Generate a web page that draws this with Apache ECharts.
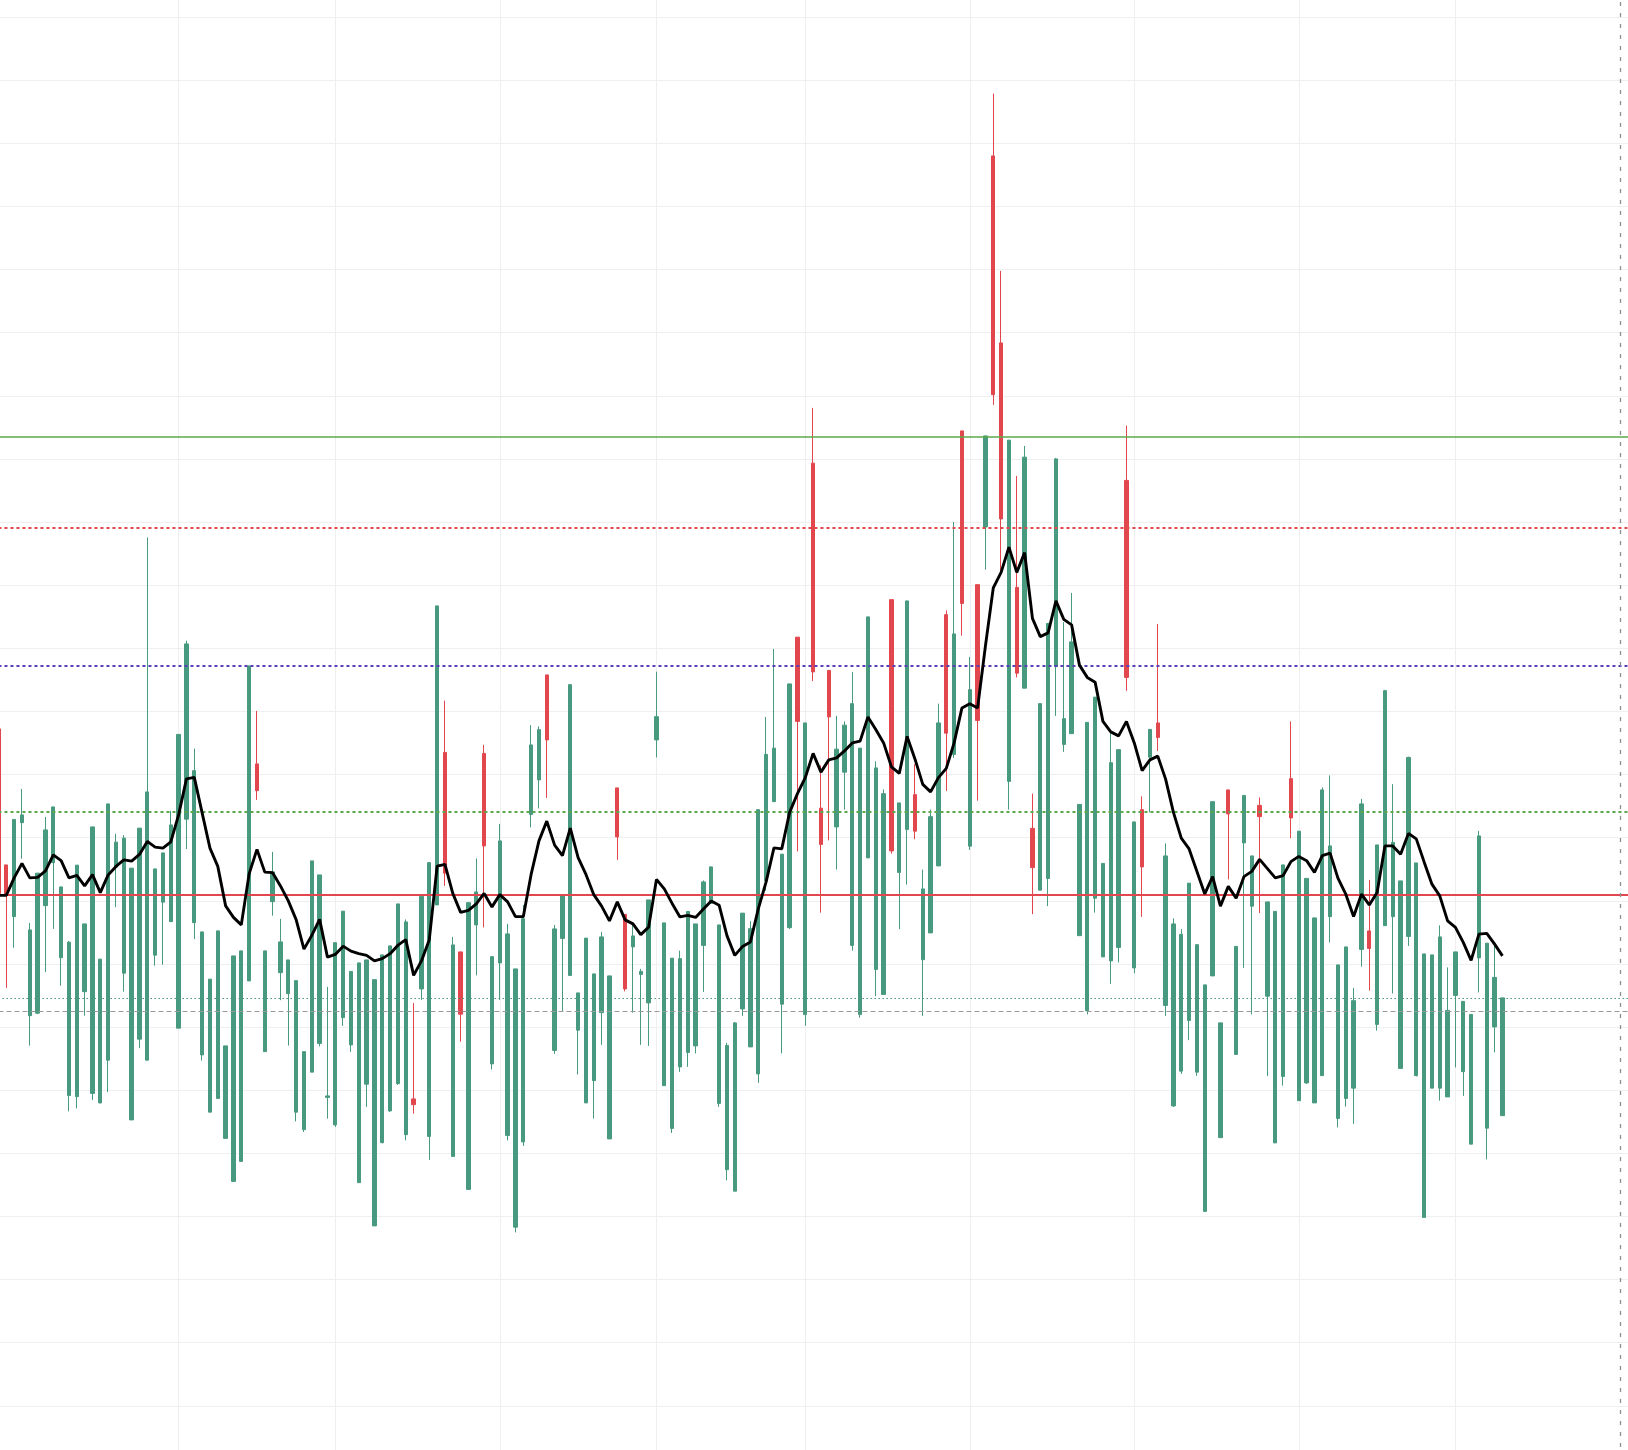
<!DOCTYPE html>
<html>
<head>
<meta charset="utf-8">
<script src="https://cdn.jsdelivr.net/npm/echarts@6/dist/echarts.min.js"></script>
<style>
html,body{margin:0;padding:0;background:#fff;}
#chart{width:1628px;height:1450px;}
</style>
</head>
<body>
<div id="chart"></div>
<script>
// Trading calendar (US market) used for the category axis
const firstDay = '2024-10-01';
const categoryCount = 210;
const holidays = ['2024-11-28','2024-12-25','2025-01-01','2025-01-09','2025-01-20','2025-02-17','2025-04-18','2025-05-26','2025-06-19','2025-07-04'];
const monthStarts = ['2024-11-01','2024-12-02','2025-01-02','2025-02-03','2025-03-03','2025-04-01','2025-05-01','2025-06-02','2025-07-01'];
const markerDate = '2025-07-31';

// OHLC values, one per trading day starting 2024-10-01
const opens = [23.02,22.98,25.98,26.16,21.56,23.83,25.56,26.48,23.28,21.07,24.15,21.80,25.68,20.39,26.60,25.07,25.23,24.03,25.63,27.08,24.00,24.64,25.76,29.38,33.00,27.93,21.48,19.59,21.52,16.92,20.52,20.72,32.12,27.13,20.72,23.88,21.08,20.36,19.53,16.69,24.32,23.76,14.92,21.05,22.31,19.90,20.24,20.36,19.57,20.56,20.92,22.60,21.88,14.57,22.90,24.25,34.52,23.83,20.96,18.19,22.65,23.08,24.92,20.49,25.12,21.40,20.00,22.01,28.96,29.57,29.16,21.60,22.93,31.37,19.04,21.23,19.80,21.28,19.72,25.28,19.20,21.32,19.90,22.76,30.09,21.84,20.43,20.41,22.30,21.80,23.48,24.08,21.76,16.94,17.84,22.23,21.61,26.37,28.58,28.83,24.59,31.40,29.90,29.84,31.88,24.98,30.08,28.79,29.75,30.61,28.83,34.08,28.04,27.01,24.72,26.64,34.72,25.51,23.20,26.09,29.84,29.43,33.40,34.62,31.17,29.94,41.32,42.97,38.00,41.15,31.83,40.47,24.05,30.61,33.82,40.40,30.01,33.08,26.58,29.86,30.87,24.22,28.25,28.77,31.66,25.88,24.08,29.58,29.26,24.52,21.80,21.38,23.43,20.97,19.36,26.69,17.84,26.20,20.90,26.94,24.52,26.09,22.68,22.30,24.16,26.04,25.51,23.62,22.04,27.16,24.92,20.16,20.88,18.73,26.60,20.82,24.96,31.13,25.06,23.52,28.46,24.24,20.60,20.56,21.28,18.34,20.68,18.70,18.18,25.32,21.03,19.66,18.84];
const closes = [29.60,24.16,22.09,25.85,18.13,18.23,22.53,24.25,20.45,14.94,14.89,19.09,15.02,14.64,16.35,24.07,19.83,13.96,17.19,16.35,20.55,22.67,21.89,17.63,25.99,21.85,16.56,14.27,14.82,13.22,11.50,12.30,19.52,28.20,16.69,22.69,19.85,19.01,14.27,13.57,15.87,17.02,14.86,13.76,18.05,16.96,11.45,15.39,9.72,13.05,14.32,15.41,13.37,14.80,19.20,13.30,22.56,28.66,12.50,20.68,11.18,21.76,28.62,16.20,20.24,13.34,9.67,13.08,26.18,27.56,31.76,16.74,21.22,19.74,17.55,14.64,15.53,18.25,13.20,27.24,22.18,20.88,19.78,18.64,29.16,15.33,13.62,16.08,16.66,16.92,20.94,22.62,14.62,11.97,11.11,18.40,16.88,15.80,23.52,26.69,18.59,21.65,33.27,18.18,40.23,26.43,31.94,25.68,27.87,20.94,18.18,24.44,19.98,18.98,34.77,23.86,25.58,26.97,20.37,21.44,24.12,34.17,28.58,41.52,24.91,35.37,37.68,52.52,45.04,27.50,35.26,31.23,25.62,23.15,23.62,32.09,28.98,29.41,21.33,18.33,22.83,20.48,20.32,20.86,39.54,20.04,26.37,28.47,29.84,18.54,14.52,15.91,17.94,15.87,10.30,19.72,13.25,27.16,16.58,25.04,22.51,26.54,18.91,13.04,15.70,27.61,14.73,15.44,14.64,15.73,22.09,14.02,14.82,15.23,20.78,21.52,17.78,21.73,22.09,16.02,21.30,15.73,10.06,15.23,15.23,14.88,18.94,15.89,12.99,20.44,13.63,17.68,14.13];
const lows = [23.02,19.24,20.85,24.41,16.93,18.19,19.87,21.60,19.33,14.30,14.42,18.13,14.76,14.62,15.07,22.47,19.09,13.96,16.83,16.35,20.13,20.17,21.89,17.63,24.79,21.19,16.33,14.27,14.82,13.22,11.50,12.30,19.52,26.76,16.69,22.13,18.75,16.93,13.90,13.48,15.87,16.90,14.01,13.68,17.72,16.68,11.45,14.48,9.72,13.02,14.28,15.36,13.14,14.21,18.76,12.36,22.56,23.32,12.50,17.09,11.18,19.74,21.66,15.98,18.76,13.14,9.46,12.92,25.66,26.42,26.84,16.60,18.30,19.74,15.78,14.64,14.01,16.96,13.20,24.36,19.10,18.25,16.96,16.92,28.46,15.33,13.44,15.88,16.08,16.62,19.08,22.62,14.48,11.54,11.11,18.12,16.88,15.44,23.13,26.69,16.62,21.60,24.70,17.73,31.51,22.25,25.14,23.97,26.37,20.73,18.05,24.44,18.91,18.98,24.61,21.59,23.37,25.19,18.12,21.44,24.12,27.12,28.44,33.33,24.76,26.73,35.97,42.56,35.94,26.37,31.66,31.23,22.19,23.15,22.51,30.12,28.68,29.41,21.33,18.18,22.25,20.48,19.40,20.26,31.12,19.83,22.08,26.26,28.72,18.12,14.48,15.80,17.15,15.72,10.30,19.72,13.25,23.58,16.58,20.04,18.18,22.23,15.72,13.04,15.33,25.23,14.73,15.40,14.64,15.73,21.06,13.66,14.49,13.80,20.09,19.13,17.53,21.73,19.02,16.02,20.92,15.70,10.06,15.23,14.73,14.88,16.06,14.92,12.99,19.06,12.38,16.66,14.13];
const highs = [29.60,24.16,25.98,27.20,21.84,23.83,26.08,26.48,23.28,21.12,24.15,21.80,25.68,20.39,26.60,25.40,25.35,24.03,25.63,37.26,24.00,24.64,26.32,29.38,33.13,28.81,21.48,19.59,21.52,16.92,20.52,20.72,32.12,30.32,20.72,24.68,22.00,20.36,19.53,16.69,24.32,23.76,19.28,21.05,22.31,19.90,20.24,20.36,19.57,20.56,20.92,22.60,21.98,18.64,22.90,24.25,34.52,30.73,21.28,20.68,22.65,24.42,28.96,20.49,25.80,21.80,20.00,22.56,29.75,29.70,31.76,21.76,22.93,31.37,19.04,21.23,19.80,21.48,19.72,27.24,22.18,21.76,20.00,22.76,31.89,21.84,20.43,20.73,22.30,21.80,23.54,24.08,21.76,17.05,17.88,22.23,21.91,26.37,30.08,32.80,24.59,31.40,33.27,29.84,42.44,28.14,31.94,30.12,29.90,31.88,28.83,34.08,28.30,27.18,34.77,26.64,34.72,28.19,23.97,26.37,30.61,34.34,37.88,41.52,32.48,35.37,41.32,55.01,47.92,41.16,39.72,40.92,27.01,30.61,33.82,40.44,33.87,35.04,26.58,29.86,30.87,24.22,29.54,28.77,41.73,25.88,26.90,29.58,33.80,25.02,22.02,21.59,23.43,20.97,19.36,26.69,17.84,27.16,20.90,26.94,24.52,26.86,22.68,22.30,24.16,29.90,25.51,23.62,22.04,27.26,27.74,20.16,20.88,19.24,26.80,23.56,24.96,31.16,27.39,23.52,28.49,24.24,20.60,20.56,21.74,20.06,20.68,18.70,18.18,25.52,21.03,20.99,18.84];

// Moving-average line
const maValues = [22.94,22.94,23.64,24.22,23.64,23.66,23.92,24.56,24.33,23.64,23.74,23.32,23.77,23.05,23.76,24.10,24.36,24.31,24.58,25.10,24.87,24.83,25.08,26.16,27.60,27.66,26.24,24.83,24.10,22.52,22.06,21.76,23.80,24.78,23.87,23.85,23.32,22.72,21.97,20.79,21.34,21.98,20.47,20.58,20.91,20.71,20.61,20.54,20.32,20.41,20.61,20.95,21.17,19.74,20.32,21.17,24.11,24.18,23.02,22.26,22.34,22.60,23.02,22.48,22.97,22.68,22.09,22.09,23.78,25.12,25.91,24.95,24.53,25.63,24.45,23.78,22.97,22.51,21.92,22.68,21.96,21.80,21.37,21.67,23.58,23.20,22.62,22.08,22.14,22.06,22.40,22.72,22.55,21.33,20.54,20.90,21.08,22.40,23.48,24.84,24.80,26.26,27.01,27.65,28.62,27.87,28.36,28.44,28.72,29.04,29.11,30.08,29.58,29.04,28.08,27.82,29.30,28.40,27.38,27.08,27.65,28.02,29.04,30.44,30.61,30.44,32.92,35.24,35.86,36.87,35.86,36.65,34.02,33.29,33.44,34.72,33.98,33.76,32.15,31.66,31.47,29.90,29.48,29.32,29.90,29.04,27.93,28.36,28.51,27.59,26.26,25.23,24.80,23.90,23.00,23.69,22.51,23.30,22.83,23.69,23.90,24.38,24.01,23.64,23.73,24.29,24.50,24.33,23.86,24.53,24.63,23.63,22.99,22.10,22.99,22.56,23.06,24.92,24.92,24.59,25.42,25.20,24.28,23.39,22.92,21.92,21.66,21.06,20.34,21.39,21.42,20.99,20.52];

// Horizontal reference levels
const levelGreenSolid = 41.30;
const levelRedDotted = 37.64;
const levelBlueDotted = 32.14;
const levelGreenDotted = 26.30;
const levelRedSolid = 22.97;
const levelTealDotted = 18.84;
const levelGrayDashed = 18.31;

// Build trading-day categories
function buildDates(start, count, skip) {
  const out = [];
  const d = new Date(start + 'T00:00:00Z');
  while (out.length < count) {
    const wd = d.getUTCDay();
    const s = d.toISOString().slice(0, 10);
    if (wd !== 0 && wd !== 6 && skip.indexOf(s) < 0) out.push(s);
    d.setUTCDate(d.getUTCDate() + 1);
  }
  return out;
}
const dates = buildDates(firstDay, categoryCount, holidays);

const candles = opens.map((o, i) => [o, closes[i], lows[i], highs[i]]);

const UP = '#e2474d';
const DOWN = '#47997f';

const chart = echarts.init(document.getElementById('chart'), null, {renderer: 'canvas'});
chart.setOption({
  animation: false,
  backgroundColor: '#ffffff',
  grid: {left: -1.533, right: -7.6, top: -46.1, bottom: -18.9, containLabel: false, outerBoundsMode: 'none'},
  xAxis: {
    type: 'category',
    data: dates,
    boundaryGap: false,
    axisLine: {show: false},
    axisTick: {show: false},
    axisLabel: {show: false},
    splitLine: {
      show: true,
      interval: function (idx, val) { return monthStarts.indexOf(val) >= 0; },
      lineStyle: {color: '#efefef', width: 1}
    }
  },
  yAxis: {
    type: 'value',
    min: 0,
    max: 60.6,
    interval: 2.525,
    axisLine: {show: false},
    axisTick: {show: false},
    axisLabel: {show: false},
    splitLine: {show: true, lineStyle: {color: '#efefef', width: 1}}
  },
  series: [
    {
      type: 'candlestick',
      data: candles,
      barWidth: 3.8,
      itemStyle: {color: UP, color0: DOWN, borderColor: UP, borderColor0: DOWN, borderWidth: 1},
      markLine: {
        silent: true,
        z: 3,
        symbol: ['none', 'none'],
        label: {show: false},
        animation: false,
        data: [
          {yAxis: levelGreenSolid, lineStyle: {color: '#5ba84c', width: 1.7, type: 'solid'}},
          {yAxis: levelRedDotted, lineStyle: {color: '#e2474d', width: 2, type: [3, 3]}},
          {yAxis: levelBlueDotted, lineStyle: {color: '#5a3fb6', width: 2, type: [3, 3]}},
          {yAxis: levelGreenDotted, lineStyle: {color: '#5ba84c', width: 2, type: [3, 3]}},
          {yAxis: levelRedSolid, lineStyle: {color: '#e2474d', width: 2.2, type: 'solid'}},
          {yAxis: levelTealDotted, lineStyle: {color: '#47997f', width: 1.2, type: [1.5, 2.5]}},
          {yAxis: levelGrayDashed, lineStyle: {color: '#9a9a9a', width: 1.2, type: [5, 3]}},
          {xAxis: markerDate, lineStyle: {color: '#8e8e99', width: 1.3, type: [4, 7]}}
        ]
      }
    },
    {
      type: 'line',
      data: maValues,
      symbol: 'none',
      showSymbol: false,
      z: 4,
      lineStyle: {color: '#000000', width: 2.9},
      silent: true
    }
  ]
});
</script>
</body>
</html>
